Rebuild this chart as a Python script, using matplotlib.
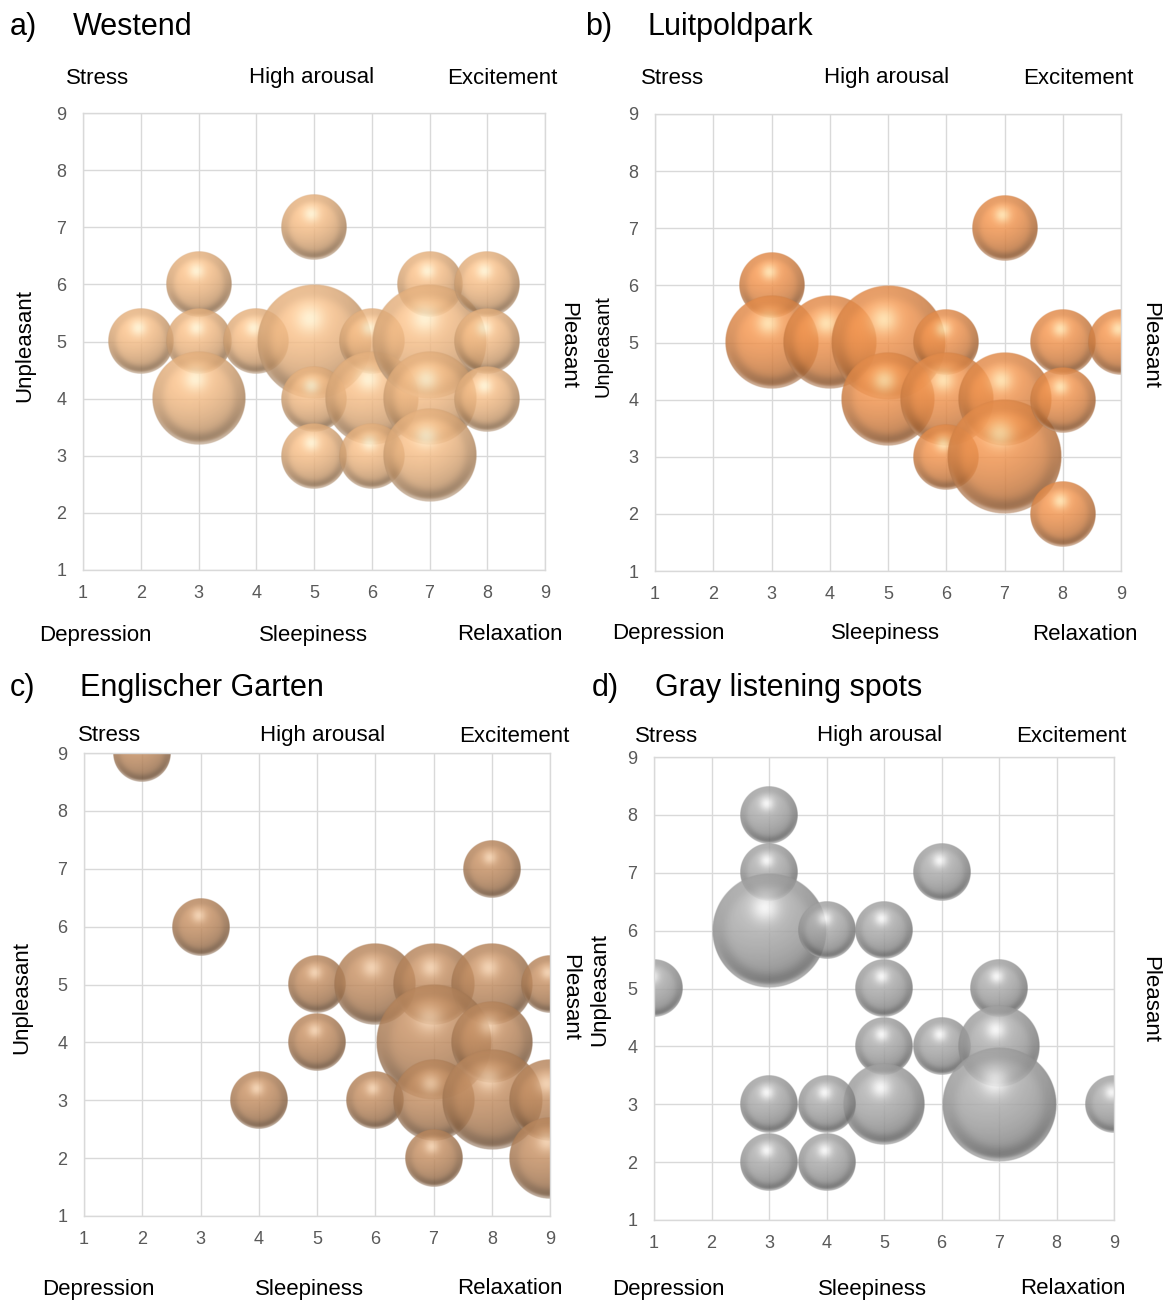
import numpy as np
import matplotlib
matplotlib.use("Agg")
import matplotlib.pyplot as plt
from matplotlib.colors import to_rgb

plt.rcParams['font.family'] = ['Liberation Sans', 'DejaVu Sans']

# ---- data: pleasantness (x), arousal (y), relative bubble size ----
westend_x = [2, 3, 3, 3, 4, 5, 5, 5, 5, 6, 6, 6, 7, 7, 7, 7, 8, 8, 8]
westend_y = [5, 6, 5, 4, 5, 7, 5, 4, 3, 5, 4, 3, 6, 5, 4, 3, 6, 5, 4]
westend_s = [1, 1, 1, 2, 1, 1, 3, 1, 1, 1, 2, 1, 1, 3, 2, 2, 1, 1, 1]

luitpold_x = [3, 3, 4, 5, 5, 6, 6, 6, 7, 7, 7, 8, 8, 8, 9]
luitpold_y = [6, 5, 5, 5, 4, 5, 4, 3, 7, 4, 3, 5, 4, 2, 5]
luitpold_s = [1, 2, 2, 3, 2, 1, 2, 1, 1, 2, 3, 1, 1, 1, 1]

englisch_x = [2, 3, 8, 5, 5, 4, 6, 7, 8, 9, 7, 8, 6, 7, 8, 9, 7, 9]
englisch_y = [9, 6, 7, 5, 4, 3, 5, 5, 5, 5, 4, 4, 3, 3, 3, 3, 2, 2]
englisch_s = [1, 1, 1, 1, 1, 1, 2, 2, 2, 1, 4, 2, 1, 2, 3, 2, 1, 2]

gray_x = [1, 3, 3, 3, 4, 5, 6, 5, 5, 6, 7, 7, 7, 5, 3, 4, 3, 4, 9]
gray_y = [5, 8, 7, 6, 6, 6, 7, 5, 4, 4, 5, 4, 3, 3, 3, 3, 2, 2, 3]
gray_s = [1, 1, 1, 4, 1, 1, 1, 1, 1, 1, 1, 2, 4, 2, 1, 1, 1, 1, 1]

ticks = [1, 2, 3, 4, 5, 6, 7, 8, 9]
corner_top = ["Stress", "High arousal", "Excitement"]
corner_bottom = ["Depression", "Sleepiness", "Relaxation"]

W, H = 1163, 1303
fig = plt.figure(figsize=(W / 100, H / 100), dpi=100)


def px_rect(x0, x1, y0, y1):
    return [x0 / W, 1 - y1 / H, (x1 - x0) / W, (y1 - y0) / H]


def sphere_image(color, highlight, n=240):
    base = np.array(to_rgb(color))
    hi = np.array(to_rgb(highlight))
    lin = np.linspace(-1, 1, n)
    u, v = np.meshgrid(lin, -lin)
    r = np.hypot(u, v)
    nz = np.sqrt(np.clip(1 - r ** 2, 0, 1))
    light = np.array([-0.2, 0.5, 0.84])
    light /= np.linalg.norm(light)
    diff = np.clip(u * light[0] + v * light[1] + nz * light[2], 0, 1)
    shade = 0.70 + 0.34 * diff
    rgb = base[None, None, :] * shade[..., None]
    # soft specular spot, upper left of centre
    spec = np.exp(-((u + 0.08) ** 2 + (v - 0.40) ** 2) / (2 * 0.17 ** 2))
    rgb = rgb + (hi - rgb) * (0.85 * spec)[..., None]
    # darker band along the rim, strongest at the bottom
    lower = np.clip(-v, 0, 1)
    band = np.exp(-((r - 0.84) / 0.12) ** 2) * (0.35 + 0.65 * lower)
    rgb = rgb * (1 - 0.18 * band)[..., None]
    # light reflection right at the bottom edge
    rim = np.exp(-((r - 0.97) / 0.045) ** 2) * lower ** 1.5
    rgb = rgb + (1 - rgb) * (0.40 * rim)[..., None]
    rgb = np.clip(rgb, 0, 1)
    edge = np.clip((1 - r) * n / 3.0, 0, 1)
    alpha = 0.84 * edge
    return np.dstack([rgb, alpha])


def panel(rect, xs, ys, ss, color, highlight, letter, name, title_px, top_px,
          bottom_px, left_px, right_px, left_size=16):
    ax = fig.add_axes(px_rect(*rect))
    ax.set_xlim(1, 9)
    ax.set_ylim(1, 9)
    ax.set_xticks(ticks)
    ax.set_yticks(ticks)
    ax.grid(True, color='#d9d9d9', linewidth=1.0)
    ax.set_axisbelow(True)
    for sp in ax.spines.values():
        sp.set_color('#d9d9d9')
        sp.set_linewidth(1.0)
    ax.tick_params(length=0, labelsize=13, labelcolor='#595959')
    ax.tick_params(axis='x', pad=11)
    ax.tick_params(axis='y', pad=12)

    # bubble radius: largest bubble spans a quarter of the plot's shorter side
    wpx = (rect[1] - rect[0])
    hpx = (rect[3] - rect[2])
    rmax_px = min(wpx, hpx) / 8.0
    ppx, ppy = wpx / 8.0, hpx / 8.0
    smax = max(ss)
    img = sphere_image(color, highlight)
    for x, y, s in zip(xs, ys, ss):
        rpx = rmax_px * np.sqrt(s / smax)
        rx, ry = rpx / ppx, rpx / ppy
        ax.imshow(img, extent=[x - rx, x + rx, y - ry, y + ry], origin='upper',
                  aspect='auto', interpolation='bilinear', zorder=2)
    ax.set_xlim(1, 9)
    ax.set_ylim(1, 9)

    tx, ty, nx = title_px
    fig.text(tx / W, 1 - ty / H, letter, fontsize=22, ha='left', va='center')
    fig.text(nx / W, 1 - ty / H, name, fontsize=22, ha='left', va='center')
    for lab, (px, py) in zip(corner_top, top_px):
        fig.text(px / W, 1 - py / H, lab, fontsize=16, ha='center', va='center')
    for lab, (px, py) in zip(corner_bottom, bottom_px):
        fig.text(px / W, 1 - py / H, lab, fontsize=16, ha='center', va='center')
    fig.text(left_px[0] / W, 1 - left_px[1] / H, "Unpleasant", fontsize=left_size,
             rotation=90, ha='center', va='center')
    fig.text(right_px[0] / W, 1 - right_px[1] / H, "Pleasant", fontsize=16,
             rotation=270, ha='center', va='center')
    return ax


panel((83, 545, 113, 570), westend_x, westend_y, westend_s, '#F6BE88', '#FFF6D6',
      "a)", "Westend", (10, 27, 73),
      [(98, 78), (312, 78), (502, 79)], [(95, 635), (313, 635), (510, 635)],
      (25, 345), (568, 345))

panel((655, 1121, 114, 571), luitpold_x, luitpold_y, luitpold_s, '#F29550', '#FFE6B0',
      "b)", "Luitpoldpark", (585, 27, 647),
      [(673, 78), (887, 78), (1078, 79)], [(668, 634), (885, 634), (1085, 634)],
      (603, 346), (1150, 345), left_size=14.5)

panel((84, 550, 753, 1216), englisch_x, englisch_y, englisch_s, '#C59064', '#F6D2AE',
      "c)", "Englischer Garten", (10, 688, 80),
      [(110, 735), (323, 735), (514, 736)], [(98, 1289), (309, 1289), (510, 1289)],
      (22, 997), (570, 997))

panel((654, 1114, 757, 1220), gray_x, gray_y, gray_s, '#ADADAD', '#FFFFFF',
      "d)", "Gray listening spots", (592, 688, 655),
      [(667, 736), (880, 736), (1071, 736)], [(668, 1289), (872, 1289), (1073, 1289)],
      (600, 990), (1150, 1000))

fig.savefig("out.png", dpi=100)
